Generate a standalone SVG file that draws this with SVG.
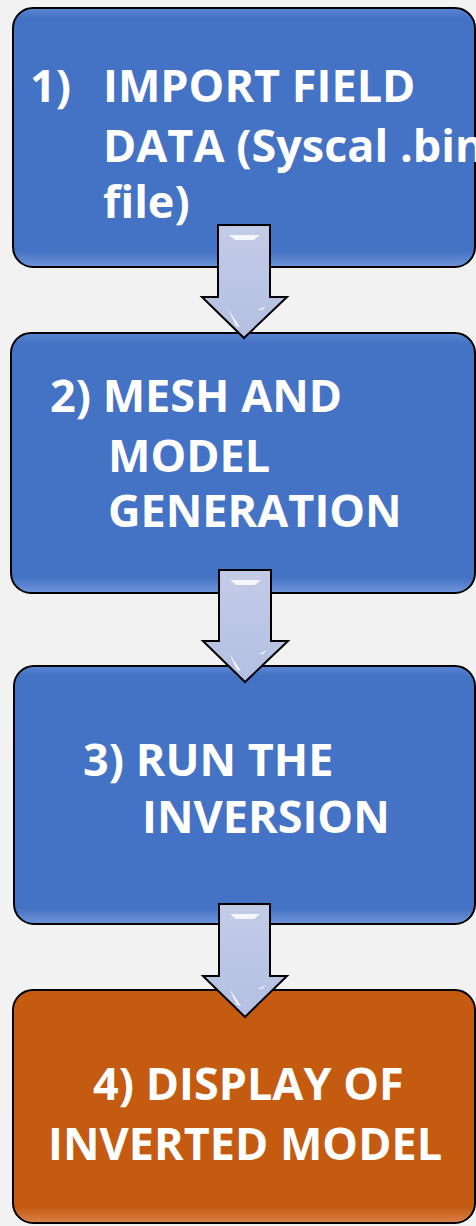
<svg xmlns="http://www.w3.org/2000/svg" width="476" height="1226" viewBox="0 0 476 1226">
  <style>
    .box { stroke: #000; stroke-width: 2; }
    .blue { fill: url(#blueFill); }
    .orange { fill: url(#orangeFill); }
    .lbl { font-family: "Open Sans", "Noto Sans", sans-serif; font-weight: 700; font-size: 45px; fill: #fff; }
    .arrow { fill: url(#arrowFill); stroke: #000; stroke-width: 2; stroke-linejoin: miter; }
    .shine { fill: #fff; opacity: 0.85; }
    .edgeB { fill: none; stroke: url(#edgeBlue); stroke-width: 3; stroke-linecap: round; }
    .edgeO { fill: none; stroke: url(#edgeOrange); stroke-width: 3; stroke-linecap: round; }
  </style>
  <defs>
    <linearGradient id="blueFill" x1="0" y1="0" x2="0" y2="1">
      <stop offset="0" stop-color="#5a86d2"/>
      <stop offset="0.04" stop-color="#4472c4"/>
      <stop offset="0.94" stop-color="#4472c4"/>
      <stop offset="1" stop-color="#6f95d8"/>
    </linearGradient>
    <linearGradient id="orangeFill" x1="0" y1="0" x2="0" y2="1">
      <stop offset="0" stop-color="#c55a11"/>
      <stop offset="0.93" stop-color="#c55a11"/>
      <stop offset="1" stop-color="#d9814a"/>
    </linearGradient>
    <linearGradient id="arrowFill" x1="0" y1="0" x2="0" y2="1">
      <stop offset="0" stop-color="#c3cbe7"/>
      <stop offset="1" stop-color="#b4bfe2"/>
    </linearGradient>
    <linearGradient id="edgeBlue" x1="0" y1="0" x2="0" y2="1" gradientUnits="objectBoundingBox">
      <stop offset="0" stop-color="#e4eeff"/>
      <stop offset="0.3" stop-color="#9dbbf0"/>
      <stop offset="1" stop-color="#7fa3e3"/>
    </linearGradient>
    <linearGradient id="edgeOrange" x1="0" y1="0" x2="0" y2="1">
      <stop offset="0" stop-color="#f3b27f"/>
      <stop offset="1" stop-color="#fde0c4"/>
    </linearGradient>
  </defs>

  <rect width="476" height="1226" fill="#f2f2f2"/>

  <!-- step 1 -->
  <g id="step1">
    <rect class="box blue" x="13" y="8" width="462" height="259" rx="20"/>
    <path class="edgeB" d="M25 32 V240"/>
    <path class="edgeB" d="M466 30 V240"/>
    <text class="lbl" x="30" y="102">1)</text>
    <text class="lbl" x="103" y="102">IMPORT FIELD</text>
    <text class="lbl" x="103" y="162">DATA (Syscal .bin</text>
    <text class="lbl" x="103" y="218">file)</text>
  </g>

  <!-- step 2 -->
  <g id="step2">
    <rect class="box blue" x="11" y="333" width="464" height="260" rx="20"/>
    <path class="edgeB" d="M22 355 V567"/>
    <path class="edgeB" d="M466 358 V567"/>
    <text class="lbl" x="50" y="412">2) MESH AND</text>
    <text class="lbl" x="108" y="472">MODEL</text>
    <text class="lbl" x="108" y="527">GENERATION</text>
  </g>

  <!-- step 3 -->
  <g id="step3">
    <rect class="box blue" x="14" y="666" width="461" height="258" rx="20"/>
    <path class="edgeB" d="M25 688 V898"/>
    <path class="edgeB" d="M466 688 V904"/>
    <text class="lbl" x="83" y="776">3) RUN THE</text>
    <text class="lbl" x="142" y="833">INVERSION</text>
  </g>

  <!-- step 4 -->
  <g id="step4">
    <rect class="box orange" x="13" y="990" width="462" height="233" rx="20"/>
    <path class="edgeO" d="M25 1012 V1200"/>
    <path class="edgeO" d="M466 1012 V1205"/>
    <text class="lbl" x="93" y="1100">4) DISPLAY OF</text>
    <text class="lbl" x="48" y="1160">INVERTED MODEL</text>
  </g>

  <!-- connectors -->
  <g id="connectors">
    <g id="arrow1">
      <path class="arrow" d="M218 225 H270 V297 H287 L244 338 L202 297 H218 Z"/>
      <path class="shine" d="M229 235 H260 L254 240 H235 Z"/>
      <path class="shine" d="M228 309 L240 327 L236 326 Z" opacity="0.6"/>
      <path class="shine" d="M258 310 L266 306 L262 310 Z" opacity="0.6"/>
    </g>
    <g id="arrow2">
      <path class="arrow" d="M219 570 H271 V641 H288 L245 682 L203 641 H219 Z"/>
      <path class="shine" d="M230 580 H261 L255 585 H236 Z"/>
      <path class="shine" d="M229 653 L241 671 L237 670 Z" opacity="0.6"/>
      <path class="shine" d="M259 654 L267 650 L263 654 Z" opacity="0.6"/>
    </g>
    <g id="arrow3">
      <path class="arrow" d="M219 904 H270 V976 H287 L245 1017 L203 976 H219 Z"/>
      <path class="shine" d="M230 914 H260 L254 919 H236 Z"/>
      <path class="shine" d="M229 988 L241 1006 L237 1005 Z" opacity="0.6"/>
      <path class="shine" d="M258 989 L266 985 L262 989 Z" opacity="0.6"/>
    </g>
  </g>
</svg>
